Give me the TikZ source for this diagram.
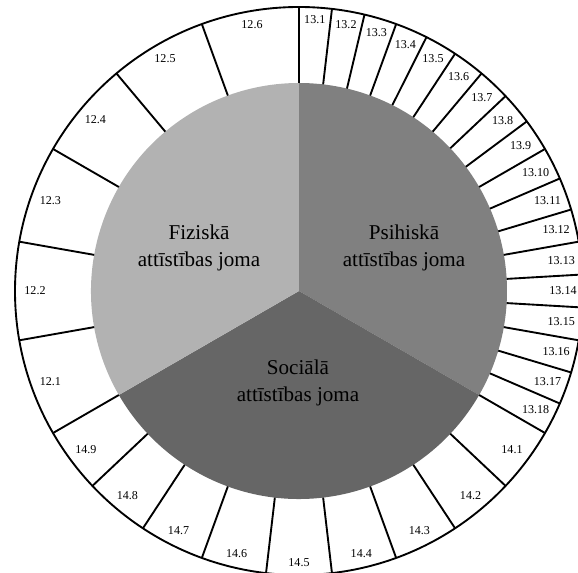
\documentclass[tikz,border=0pt]{standalone}
\usepackage{fontspec}
\setmainfont{Liberation Serif}
\definecolor{fizgray}{RGB}{178,178,178}
\definecolor{psigray}{RGB}{128,128,128}
\definecolor{socgray}{RGB}{102,102,102}
\tikzset{
  spoke/.style={line width=1.6pt},
  segtext/.style={font=\fontsize{10.3}{12}\selectfont, inner sep=0pt},
  areatext/.style={font=\fontsize{18}{23}\selectfont, align=center, inner sep=0pt}
}
\begin{document}
\begin{tikzpicture}[x=0.03cm,y=0.03cm,
    declare function={labr(\a)=272-8*abs(cos(\a));}]
      \useasboundingbox (-299,-282) rectangle (279,291);
      \fill[psigray] (0,0) -- (90:208) arc[start angle=90, end angle=-30, radius=208] -- cycle;
      \fill[socgray] (0,0) -- (-30:208) arc[start angle=-30, end angle=-150, radius=208] -- cycle;
      \fill[fizgray] (0,0) -- (210:208) arc[start angle=210, end angle=90, radius=208] -- cycle;
      \draw[spoke] (0,0) circle[radius=284];
      \foreach \i in {1,...,6} {
        \draw[spoke] ({230-20*\i}:208) -- ({230-20*\i}:284);
        \node[segtext] (s12-\i) at ({220-20*\i}:{labr(220-20*\i)}) {12.\i};
      }
      \foreach \i in {1,...,18} {
        \draw[spoke] ({90-(\i-1)*20/3}:208) -- ({90-(\i-1)*20/3}:284);
        \node[segtext] (s13-\i) at ({90-(\i-0.5)*20/3}:{labr(90-(\i-0.5)*20/3)}) {13.\i};
      }
      \foreach \i in {1,...,9} {
        \draw[spoke] ({-30-(\i-1)*40/3}:208) -- ({-30-(\i-1)*40/3}:284);
        \node[segtext] (s14-\i) at ({-30-(\i-0.5)*40/3}:{labr(-30-(\i-0.5)*40/3)}) {14.\i};
      }
      \node[areatext] (fiz) at (-100,43) {Fiziskā\\attīstības joma};
      \node[areatext] (psi) at (105,43) {Psihiskā\\attīstības joma};
      \node[areatext] (soc) at (-1,-92) {Sociālā\\attīstības joma};
\end{tikzpicture}
\end{document}
